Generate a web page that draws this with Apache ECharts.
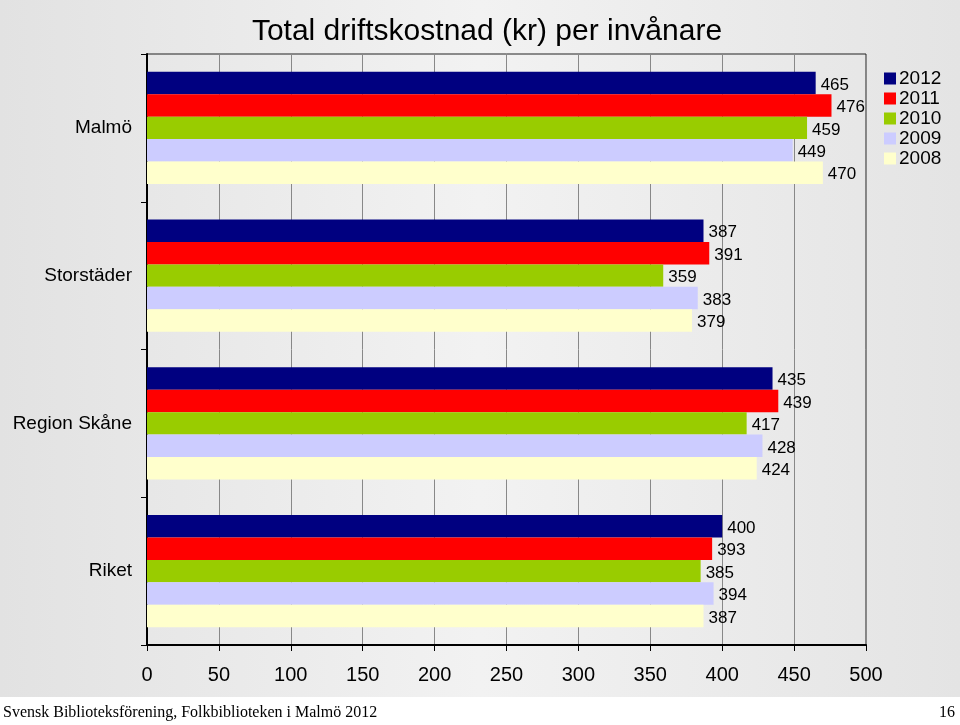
<!DOCTYPE html>
<html>
<head>
<meta charset="utf-8">
<script src="https://cdn.jsdelivr.net/npm/echarts@6/dist/echarts.min.js"></script>
<style>
  html, body { margin: 0; padding: 0; background: #fff; }
  #chart-container { width: 960px; height: 725px; }
</style>
</head>
<body>
<div id="chart-container"></div>
<script>
var categories = ['Malmö', 'Storstäder', 'Region Skåne', 'Riket'];
var years = ['2012', '2011', '2010', '2009', '2008'];
var colors = ['#000080', '#ff0000', '#99cc00', '#ccccff', '#ffffcc'];

var values2012 = [465, 387, 435, 400];
var values2011 = [476, 391, 439, 393];
var values2010 = [459, 359, 417, 385];
var values2009 = [449, 383, 428, 394];
var values2008 = [470, 379, 424, 387];

var allValues = [values2012, values2011, values2010, values2009, values2008];

var chartDom = document.getElementById('chart-container');
var myChart = echarts.init(chartDom);

var seriesList = [];
for (let i = 0; i < years.length; i++) {
    seriesList.push({
        name: years[i],
        type: 'bar',
        data: allValues[i],
        barGap: '0%',
        barCategoryGap: '24%',
        itemStyle: { color: colors[i] },
        label: {
            show: true,
            position: 'right',
            distance: 5,
            offset: [0, 2],
            color: '#000',
            fontFamily: 'Liberation Sans',
            fontSize: 17
        }
    });
}

var option = {
    animation: false,
    graphic: [
        {
            type: 'rect',
            z: -10,
            shape: { x: 0, y: 0, width: 960, height: 697 },
            style: {
                fill: new echarts.graphic.LinearGradient(0, 0, 1, 0, [
                    { offset: 0, color: '#e2e2e2' },
                    { offset: 0.5, color: '#f2f2f2' },
                    { offset: 1, color: '#e4e4e4' }
                ])
            }
        },
        {
            type: 'text',
            left: 3,
            top: 705,
            style: {
                text: 'Svensk Biblioteksförening, Folkbiblioteken i Malmö 2012',
                fontFamily: 'Liberation Serif',
                fontSize: 16,
                fill: '#000'
            }
        },
        {
            type: 'text',
            right: 5,
            top: 705,
            style: {
                text: '16',
                fontFamily: 'Liberation Serif',
                fontSize: 16,
                fill: '#000'
            }
        }
    ],
    title: {
        text: 'Total driftskostnad (kr) per invånare',
        left: 482,
        textAlign: 'center',
        top: 12,
        textStyle: {
            fontFamily: 'Liberation Sans',
            fontSize: 30,
            fontWeight: 'normal',
            color: '#000'
        }
    },
    legend: {
        orient: 'vertical',
        left: 884,
        top: 69,
        padding: 0,
        itemWidth: 12,
        itemHeight: 12,
        itemGap: 1,
        icon: 'rect',
        textStyle: {
            fontFamily: 'Liberation Sans',
            fontSize: 19,
            lineHeight: 18,
            color: '#000',
            padding: [0, 0, 0, -2]
        },
        data: years
    },
    grid: {
        left: 147,
        right: 94,
        top: 54,
        bottom: 80,
        show: true,
        borderColor: '#222',
        borderWidth: 1,
        backgroundColor: 'transparent'
    },
    xAxis: {
        type: 'value',
        min: 0,
        max: 500,
        interval: 50,
        axisLine: { show: true, lineStyle: { color: '#000', width: 2 } },
        axisTick: { show: true, length: 6, inside: false, lineStyle: { color: '#000' } },
        axisLabel: {
            fontFamily: 'Liberation Sans',
            fontSize: 20,
            color: '#000',
            margin: 20
        },
        splitLine: { show: true, lineStyle: { color: '#888', width: 1 } }
    },
    yAxis: {
        type: 'category',
        data: categories,
        inverse: true,
        axisLine: { show: true, lineStyle: { color: '#000', width: 2 } },
        axisTick: { show: true, length: 6, lineStyle: { color: '#000' } },
        axisLabel: {
            fontFamily: 'Liberation Sans',
            fontSize: 19,
            color: '#000',
            margin: 15
        },
        splitLine: { show: false }
    },
    series: seriesList
};

myChart.setOption(option);
</script>
</body>
</html>
